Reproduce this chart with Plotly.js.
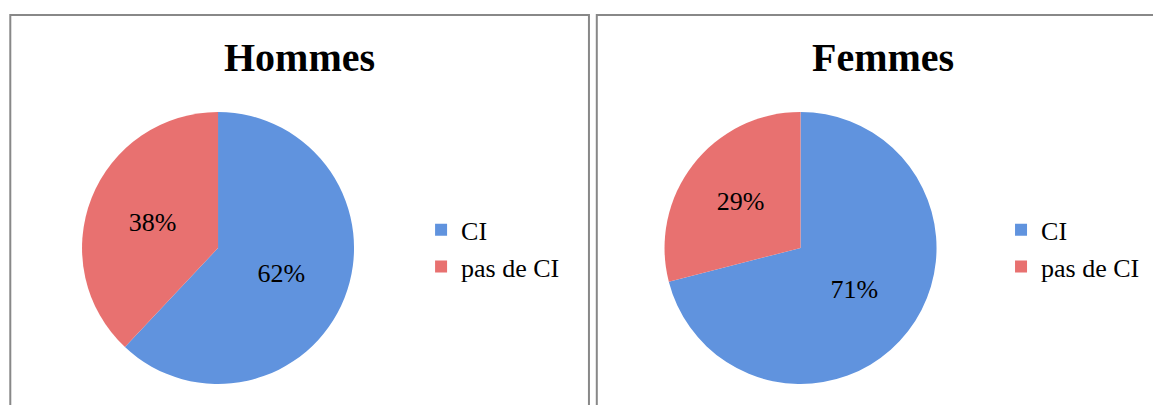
<!DOCTYPE html>
<html>
<head>
<meta charset="utf-8">
<script src="https://cdn.plot.ly/plotly-3.0.1.min.js"></script>
<style>html,body{margin:0;padding:0;background:#fff;}#chart{width:1153px;height:405px;}</style>
</head>
<body>
<div id="chart"></div>
<script>
const categories = ["CI", "pas de CI"];
const hommesValues = [62, 38];
const femmesValues = [71, 29];
const panelTitles = ["Hommes", "Femmes"];
const sliceColors = ["#6093DE", "#E87170"];

const serif = "Liberation Serif, Times New Roman, serif";

// Second pie needs distinct label keys so its own legend is drawn (shown text is identical)
const femmesLabels = categories.map(c => c + " ");

const common = {
  type: "pie",
  sort: false,
  direction: "clockwise",
  rotation: 0,
  textinfo: "percent",
  textposition: "inside",
  insidetextorientation: "horizontal",
  textfont: {family: serif, size: 26, color: "#000"},
  marker: {colors: sliceColors, line: {width: 0}},
  hoverinfo: "label+percent"
};

const data = [
  Object.assign({}, common, {
    labels: categories,
    values: hommesValues,
    domain: {x: [0.0711, 0.3071], y: [0.0519, 0.7235]},
    legend: "legend"
  }),
  Object.assign({}, common, {
    labels: femmesLabels,
    values: femmesValues,
    domain: {x: [0.5759, 0.8127], y: [0.0519, 0.7235]},
    legend: "legend2"
  })
];

const legendStyle = {
  font: {family: serif, size: 26, color: "#000"},
  bgcolor: "rgba(0,0,0,0)",
  yanchor: "middle",
  xanchor: "left",
  y: 0.387
};

const layout = {
  width: 1153,
  height: 405,
  margin: {l: 0, r: 0, t: 0, b: 0},
  paper_bgcolor: "#fff",
  showlegend: true,
  legend: Object.assign({}, legendStyle, {x: 0.3652}),
  legend2: Object.assign({}, legendStyle, {x: 0.8682}),
  annotations: [
    {text: "<b>" + panelTitles[0] + "</b>", xref: "paper", yref: "paper", x: 0.2598, y: 0.859, showarrow: false,
     font: {family: serif, size: 40, color: "#000"}, xanchor: "center", yanchor: "middle"},
    {text: "<b>" + panelTitles[1] + "</b>", xref: "paper", yref: "paper", x: 0.7658, y: 0.859, showarrow: false,
     font: {family: serif, size: 40, color: "#000"}, xanchor: "center", yanchor: "middle"}
  ],
  shapes: [
    {type: "path", xref: "paper", yref: "paper", path: "M 0.00893,-0.05 L 0.00893,0.963 L 0.5108,0.963 L 0.5108,-0.05",
     line: {color: "#888", width: 2}},
    {type: "path", xref: "paper", yref: "paper", path: "M 0.5176,-0.05 L 0.5176,0.963 L 1.05,0.963",
     line: {color: "#888", width: 2}}
  ]
};

Plotly.newPlot("chart", data, layout, {displayModeBar: false, staticPlot: true});
</script>
</body>
</html>
